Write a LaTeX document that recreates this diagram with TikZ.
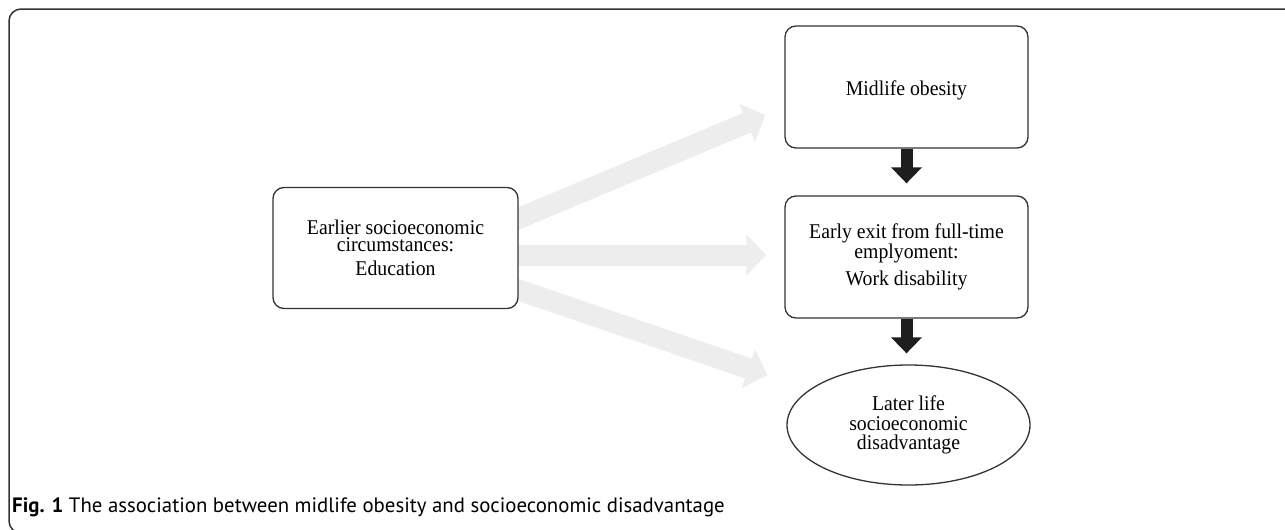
\documentclass[tikz,border=0pt]{standalone}
\usepackage{fontspec}
\setmainfont{Liberation Serif}
\newfontfamily\boxfont{Liberation Serif}[FakeStretch=0.94]
\newfontfamily\capfont{PT Sans}
\usetikzlibrary{arrows.meta,shapes.geometric}
\pgfdeclarelayer{bg}
\pgfsetlayers{bg,main}
\definecolor{framegray}{HTML}{333333}
\definecolor{lightarrow}{HTML}{EDEDED}
\definecolor{darkarrow}{HTML}{1E1E1E}
\begin{document}
\begin{tikzpicture}[x=1pt,y=-1pt,
  box/.style={draw=framegray, line width=1.3pt, rounded corners=11pt, fill=white,
    align=center, inner sep=0pt, font=\boxfont\fontsize{21}{17.5}\selectfont},
  ellbox/.style={ellipse, draw=framegray, line width=1.3pt, fill=white,
    align=center, inner sep=0pt, font=\boxfont\fontsize{21}{19.5}\selectfont},
  blackarrow/.style={draw=darkarrow, line width=12pt, -{Triangle[width=30pt,length=16pt]}},
  grayarrow/.style={draw=lightarrow, line width=21pt, -{Triangle[width=40pt,length=20pt]}},
  framestyle/.style={draw=framegray, line width=1.5pt, rounded corners=12pt}
]
\useasboundingbox (0,0) rectangle (1285,530);
\clip (0,0) rectangle (1285,530);

% frame
\draw[framestyle] (1300,9) -- (9,9) -- (9,533) -- (40,533);

% nodes
\node[box, minimum width=245pt, minimum height=121pt] (L) at (395.5,248)
  {Earlier socioeconomic\\circumstances:\\[6.5pt]Education};
\node[box, minimum width=243pt, minimum height=122pt, text height=17.4pt, text depth=0pt] (T) at (906.5,87)
  {Midlife obesity};
\node[box, minimum width=243pt, minimum height=122pt] (M) at (906.5,257)
  {Early exit from full-time\\emplyoment:\\[6.5pt]Work disability};
\node[ellbox, minimum width=243pt, minimum height=120pt] (E) at (908.5,425)
  {Later life\\socioeconomic\\disadvantage};

% black arrows
\draw[blackarrow, shorten >=12pt] (T.south) -- (M.north);
\draw[blackarrow, shorten >=11pt] (M.south) -- (M.south |- E.north);

% gray arrows
\begin{pgfonlayer}{bg}
\draw[grayarrow, shorten <=-30pt] ([yshift=29.5pt]L.east) -- ([xshift=-19pt,yshift=-28pt]T.west);
\draw[grayarrow, shorten <=-30pt] ([yshift=-7pt]L.east) -- ([xshift=-18pt,yshift=2pt]M.west);
\draw[grayarrow, shorten <=-30pt] ([yshift=-42pt]L.east) -- ([xshift=-19pt,yshift=50pt]E.west);
\end{pgfonlayer}

% caption
\node[anchor=base west, inner sep=0pt, font=\capfont\fontsize{20.8}{23}\selectfont] (cap) at (12,512)
  {\textbf{Fig. 1} The association between midlife obesity and socioeconomic disadvantage};
\end{tikzpicture}
\end{document}
